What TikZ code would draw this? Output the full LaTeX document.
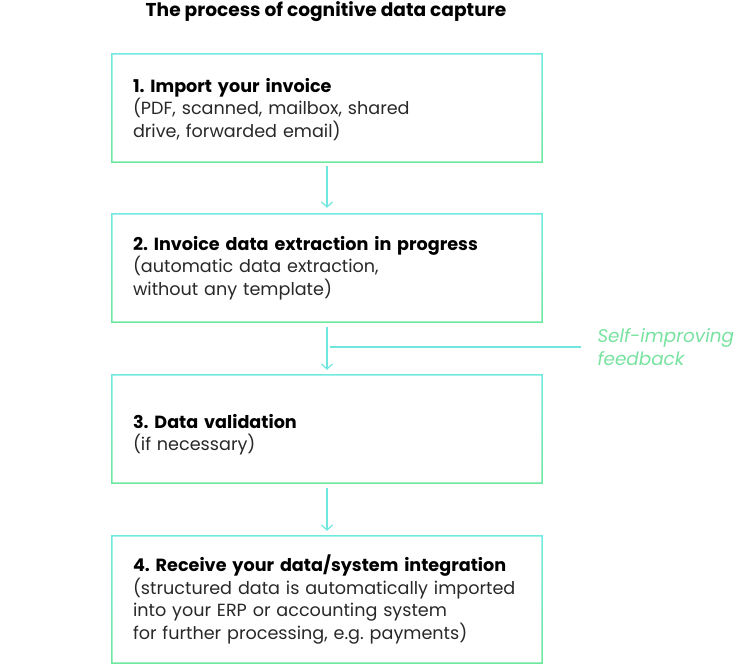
\documentclass[tikz,border=0pt]{standalone}
\usepackage{fontspec}
\setmainfont{Poppins}
\frenchspacing
\usetikzlibrary{arrows.meta}
\definecolor{bcyan}{RGB}{112,234,224}
\definecolor{bgreen}{RGB}{110,232,158}
\definecolor{acyan}{RGB}{112,230,222}
\definecolor{fbgreen}{RGB}{120,226,160}
\definecolor{txt}{RGB}{40,40,40}
\tikzset{
  stepbox/.style={draw=none, minimum width=430pt, minimum height=108pt,
    text width=388pt, inner xsep=21pt, inner ysep=0pt, align=left,
    font=\fontsize{17.6}{22.5}\selectfont, text=txt},
  flow/.style={draw=acyan, line width=1.2pt, -{Straight Barb[length=5pt,width=11pt,line width=1.2pt]}},
  fbline/.style={draw=acyan, line width=1.2pt},
  ttl/.style={font=\fontsize{18.6}{20}\selectfont\bfseries, text=black},
  fbtext/.style={font=\fontsize{18.4}{22.5}\selectfont\itshape, text=fbgreen, align=left, anchor=west}
}
\begin{document}
\begin{tikzpicture}[x=1pt,y=-1pt]
\useasboundingbox (0,0) rectangle (750,664);
\node[ttl] (title) at (326,12) {The process of cognitive data capture};
\node[stepbox, text depth=46pt] (b1) at (327,108) {\textbf{\color{black}1. Import your invoice}\\(PDF, scanned, mailbox, shared\\drive, forwarded email)};
\node[stepbox] (b2) at (327,268) {\textbf{\color{black}2. Invoice data extraction in progress}\\(automatic data extraction,\\without any template)};
\node[stepbox, text depth=16pt] (b3) at (327,429) {\textbf{\color{black}3. Data validation}\\(if necessary)};
\node[stepbox, minimum height=127pt] (b4) at (327,599.5) {\textbf{\color{black}4. Receive your data/system integration}\\(structured data is automatically imported\\into your ERP or accounting system\\for further processing, e.g. payments)};
\foreach \n in {b1,b2,b3,b4}{
  \shade[top color=bcyan, bottom color=bgreen, even odd rule]
    ([xshift=-0.75pt,yshift=0.75pt]\n.north west) rectangle ([xshift=0.75pt,yshift=-0.75pt]\n.south east)
    ([xshift=0.75pt,yshift=-0.75pt]\n.north west) rectangle ([xshift=-0.75pt,yshift=0.75pt]\n.south east);
}
\draw[flow] ([yshift=-4pt]b1.south) -- ([yshift=6pt]b2.north);
\draw[flow] ([yshift=-5pt]b2.south) -- ([yshift=5pt]b3.north);
\draw[flow] ([yshift=-5pt]b3.south) -- ([yshift=5pt]b4.north);
\node[fbtext] (fb) at (594,347) {Self-improving\\feedback};
\coordinate (fbend) at (330,347);
\draw[fbline] ([xshift=-13pt]fb.west) -- (fbend);
\end{tikzpicture}
\end{document}
